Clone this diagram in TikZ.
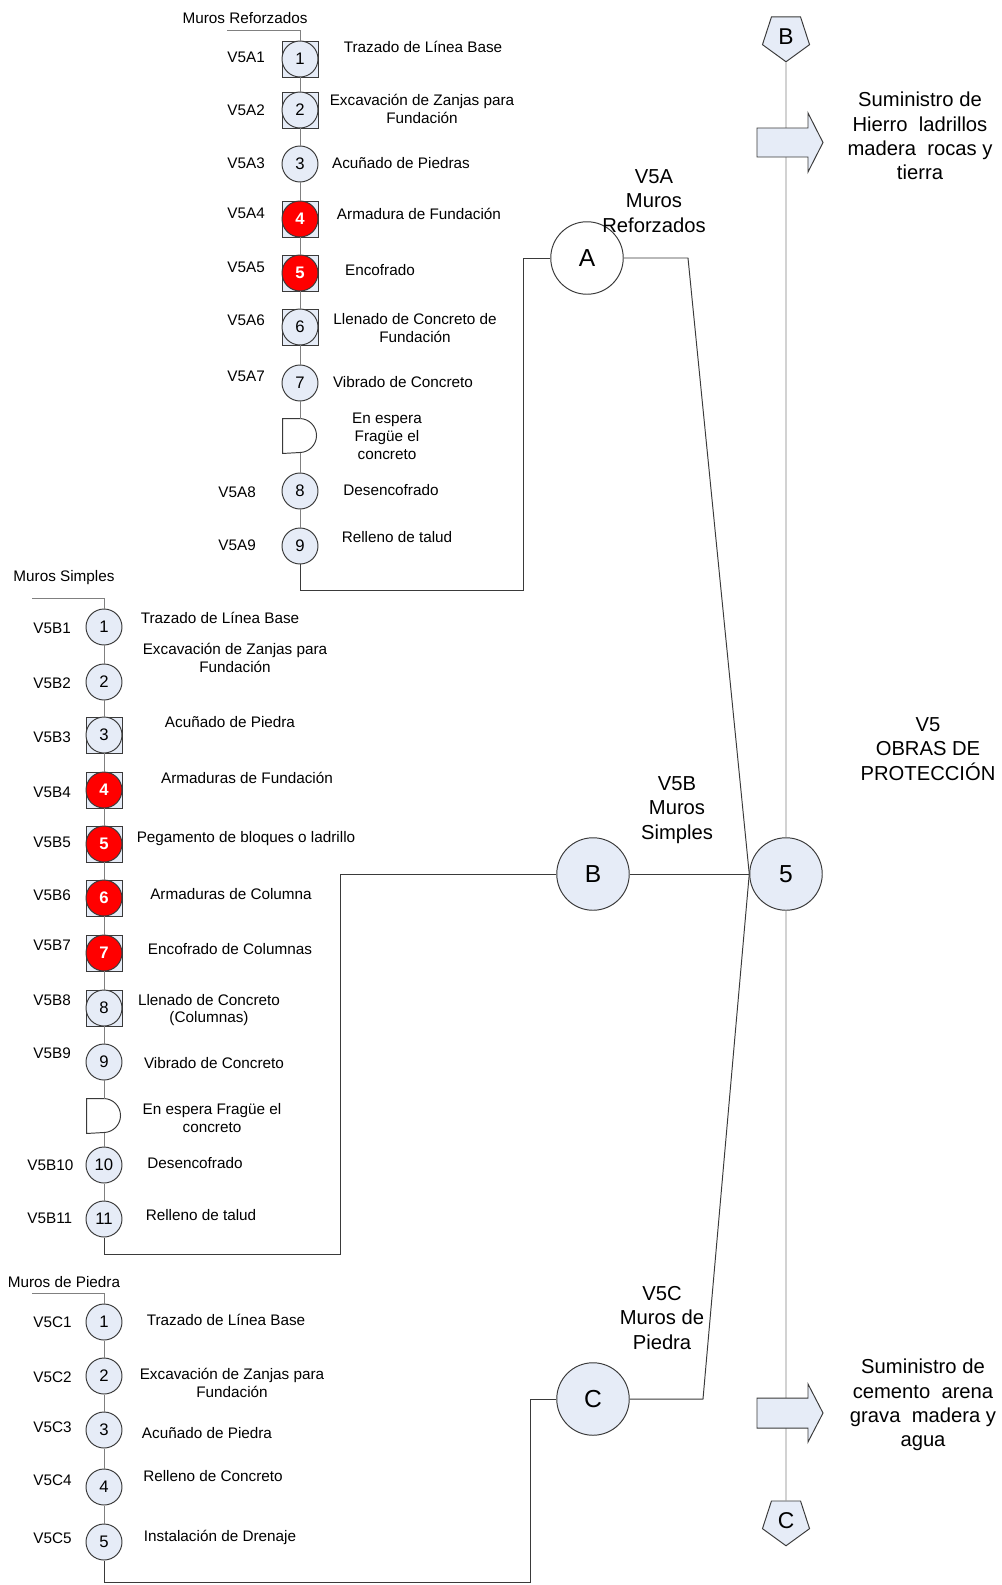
\documentclass[tikz,border=0pt]{standalone}
\usepackage{fontspec}
\setmainfont{Liberation Sans}
\usetikzlibrary{shapes.geometric}

\definecolor{lightfill}{HTML}{E6ECF7}
\definecolor{linegray}{HTML}{808080}
\definecolor{edgegray}{HTML}{3A3A3A}

\begin{document}
\begin{tikzpicture}[x=0.2mm,y=-0.2mm,line width=0.55pt,
  op/.style={shape=circle,draw=edgegray,fill=lightfill,minimum size=7.2mm,inner sep=0pt,font=\fontsize{9.5}{10}\selectfont},
  opred/.style={op,fill=red,text=white,font=\fontsize{9.5}{10}\selectfont\bfseries},
  opbox/.style={shape=rectangle,draw=edgegray,fill=lightfill,minimum size=7.2mm,inner sep=0pt},
  wait/.style={shape=rectangle,minimum width=6.8mm,minimum height=6.8mm,inner sep=0pt},
  code/.style={anchor=west,inner sep=0pt,font=\fontsize{8.7}{10}\selectfont},
  task/.style={align=center,inner sep=0pt,font=\fontsize{8.7}{10.2}\selectfont},
  big/.style={align=center,inner sep=0pt,font=\fontsize{11.5}{13.9}\selectfont},
  hub/.style={shape=circle,draw=edgegray,fill=lightfill,minimum size=14.5mm,inner sep=0pt,font=\fontsize{14}{16}\selectfont},
  conn/.style={shape=regular polygon,regular polygon sides=5,shape border rotate=180,draw=edgegray,fill=lightfill,minimum size=9.9mm,inner sep=0pt,font=\fontsize{13}{14}\selectfont},
  flow/.style={draw=linegray},
  link/.style={draw=edgegray}
]
\useasboundingbox (0,0) rectangle (1002,1585);

% Muros Reforzados
\node[task] (ha) at (245,18) {Muros Reforzados};
\coordinate (ta) at (227,30);
\node[opbox] (a1s) at (300,59) {};
\node[op] (a1) at (300,59) {1};
\node[opbox] (a2s) at (300,110) {};
\node[op] (a2) at (300,110) {2};
\node[op] (a3) at (300,164) {3};
\node[opbox] (a4s) at (300,219) {};
\node[opred] (a4) at (300,219) {4};
\node[opbox] (a5s) at (300,273) {};
\node[opred] (a5) at (300,273) {5};
\node[opbox] (a6s) at (300,327) {};
\node[op] (a6) at (300,327) {6};
\node[op] (a7) at (300,383) {7};
\node[wait] (ad) at (300,436) {};
\node[op] (a8) at (300,491) {8};
\node[op] (a9) at (300,546) {9};
\draw[edgegray,fill=white] (ad.north west) -- ++(17,0) arc[start angle=90,end angle=-90,radius=3.4mm] -- (ad.south west) -- cycle;

\node[code] at (227,57) {V5A1};
\node[code] at (227,110) {V5A2};
\node[code] at (227,163) {V5A3};
\node[code] at (227,213) {V5A4};
\node[code] at (227,267) {V5A5};
\node[code] at (227,320) {V5A6};
\node[code] at (227,376) {V5A7};
\node[code] at (218,492) {V5A8};
\node[code] at (218,545) {V5A9};

\node[task] at (423,47) {Trazado de Línea Base};
\node[task] at (422,109) {Excavación de Zanjas para\\Fundación};
\node[task] at (401,163) {Acuñado de Piedras};
\node[task] at (419,214) {Armadura de Fundación};
\node[task] at (380,270) {Encofrado};
\node[task] at (415,328) {Llenado de Concreto de\\Fundación};
\node[task] at (403,382) {Vibrado de Concreto};
\node[task] at (387,436) {En espera\\Fragüe el\\concreto};
\node[task] at (391,490) {Desencofrado};
\node[task] at (397,537) {Relleno de talud};

\draw[flow] (ta) -| (a1);
\draw[flow] (a1) -- (a2);
\draw[flow] (a2) -- (a3);
\draw[flow] (a3) -- (a4);
\draw[flow] (a4) -- (a5);
\draw[flow] (a5) -- (a6);
\draw[flow] (a6) -- (a7);
\draw[flow] (a7) -- (ad);
\draw[flow] (ad) -- (a8);
\draw[flow] (a8) -- (a9);

% Muros Simples
\node[task] (hb) at (64,578) {Muros Simples};
\coordinate (tb) at (32,598);
\node[op] (b1) at (104,627) {1};
\node[op] (b2) at (104,682) {2};
\node[opbox] (b3s) at (104,735) {};
\node[op] (b3) at (104,735) {3};
\node[opbox] (b4s) at (104,790) {};
\node[opred] (b4) at (104,790) {4};
\node[opbox] (b5s) at (104,844) {};
\node[opred] (b5) at (104,844) {5};
\node[opbox] (b6s) at (104,898) {};
\node[opred] (b6) at (104,898) {6};
\node[opbox] (b7s) at (104,953) {};
\node[opred] (b7) at (104,953) {7};
\node[opbox] (b8s) at (104,1008) {};
\node[op] (b8) at (104,1008) {8};
\node[op] (b9) at (104,1062) {9};
\node[wait] (bd) at (104,1116) {};
\node[op] (b10) at (104,1165) {10};
\node[op] (b11) at (104,1219) {11};
\draw[edgegray,fill=white] (bd.north west) -- ++(17,0) arc[start angle=90,end angle=-90,radius=3.4mm] -- (bd.south west) -- cycle;

\node[code] at (33,628) {V5B1};
\node[code] at (33,683) {V5B2};
\node[code] at (33,737) {V5B3};
\node[code] at (33,792) {V5B4};
\node[code] at (33,842) {V5B5};
\node[code] at (33,895) {V5B6};
\node[code] at (33,945) {V5B7};
\node[code] at (33,1000) {V5B8};
\node[code] at (33,1053) {V5B9};
\node[code] at (27,1165) {V5B10};
\node[code] at (27,1218) {V5B11};

\node[task] at (220,618) {Trazado de Línea Base};
\node[task] at (235,658) {Excavación de Zanjas para\\Fundación};
\node[task] at (230,722) {Acuñado de Piedra};
\node[task] at (247,778) {Armaduras de Fundación};
\node[task] at (246,839) {Pegamento de bloques o ladrillo};
\node[task] at (231,894) {Armaduras de Columna};
\node[task] at (230,949) {Encofrado de Columnas};
\node[task] at (209,1010) {Llenado de Concreto\\(Columnas)};
\node[task] at (214,1063) {Vibrado de Concreto};
\node[task] at (212,1118) {En espera Fragüe el\\concreto};
\node[task] at (195,1163) {Desencofrado};
\node[task] at (201,1215) {Relleno de talud};

\draw[flow] (tb) -| (b1);
\draw[flow] (b1) -- (b2);
\draw[flow] (b2) -- (b3);
\draw[flow] (b3) -- (b4);
\draw[flow] (b4) -- (b5);
\draw[flow] (b5) -- (b6);
\draw[flow] (b6) -- (b7);
\draw[flow] (b7) -- (b8);
\draw[flow] (b8) -- (b9);
\draw[flow] (b9) -- (bd);
\draw[flow] (bd) -- (b10);
\draw[flow] (b10) -- (b11);

% Muros de Piedra
\node[task] (hc) at (64,1282) {Muros de Piedra};
\coordinate (tc) at (32,1293);
\node[op] (c1) at (104,1322) {1};
\node[op] (c2) at (104,1376) {2};
\node[op] (c3) at (104,1430) {3};
\node[op] (c4) at (104,1487) {4};
\node[op] (c5) at (104,1542) {5};

\node[code] at (33,1322) {V5C1};
\node[code] at (33,1377) {V5C2};
\node[code] at (33,1427) {V5C3};
\node[code] at (33,1480) {V5C4};
\node[code] at (33,1538) {V5C5};

\node[task] at (226,1320) {Trazado de Línea Base};
\node[task] at (232,1383) {Excavación de Zanjas para\\Fundación};
\node[task] at (207,1433) {Acuñado de Piedra};
\node[task] at (213,1476) {Relleno de Concreto};
\node[task] at (220,1537) {Instalación de Drenaje};

\draw[flow] (tc) -| (c1);
\draw[flow] (c1) -- (c2);
\draw[flow] (c2) -- (c3);
\draw[flow] (c3) -- (c4);
\draw[flow] (c4) -- (c5);

% sub-activities joined into V5
\node[hub,fill=white] (A) at (587,258) {A};
\node[hub] (B) at (593,874) {B};
\node[hub] (C) at (593,1399) {C};
\node[hub] (v5) at (786,874) {5};
\node[conn] (pB) at (786,37) {B};
\node[conn] (pC) at (786,1521) {C};

\coordinate (ja) at (523,590);
\coordinate (ka) at (688,258);
\coordinate (jb) at (340,1254);
\coordinate (jc) at (530,1582);
\coordinate (kc) at (703,1399);

\draw[link] (a9) |- (ja) |- (A);
\draw[link] (A) -- (ka) -- (v5.west);
\draw[link] (b11) |- (jb) |- (B);
\draw[link] (B) -- (v5);
\draw[link] (c5) |- (jc) |- (C);
\draw[link] (C) -- (kc) -- (v5.west);
\draw[flow] (pB) -- (v5);
\draw[flow] (v5) -- (pC);

% material supply arrows
\draw[edgegray,fill=lightfill] (757,128) -- (808,128) -- (808,113) -- (823,142.5) -- (808,172) -- (808,157) -- (757,157) -- cycle;
\draw[edgegray,fill=lightfill] (757,1398) -- (808,1398) -- (808,1384) -- (823,1413) -- (808,1442) -- (808,1428) -- (757,1428) -- cycle;

\node[big] at (654,201) {V5A\\Muros\\Reforzados};
\node[big] at (677,810) {V5B\\Muros\\Simples};
\node[big] at (662,1318) {V5C\\Muros de\\Piedra};
\node[big] at (928,749) {V5\\OBRAS DE\\PROTECCIÓN};
\node[big] at (920,136) {Suministro de\\Hierro \ ladrillos\\madera \ rocas y\\tierra};
\node[big] at (923,1405) {Suministro de\\cemento \ arena\\grava \ madera y\\agua};
\end{tikzpicture}
\end{document}
